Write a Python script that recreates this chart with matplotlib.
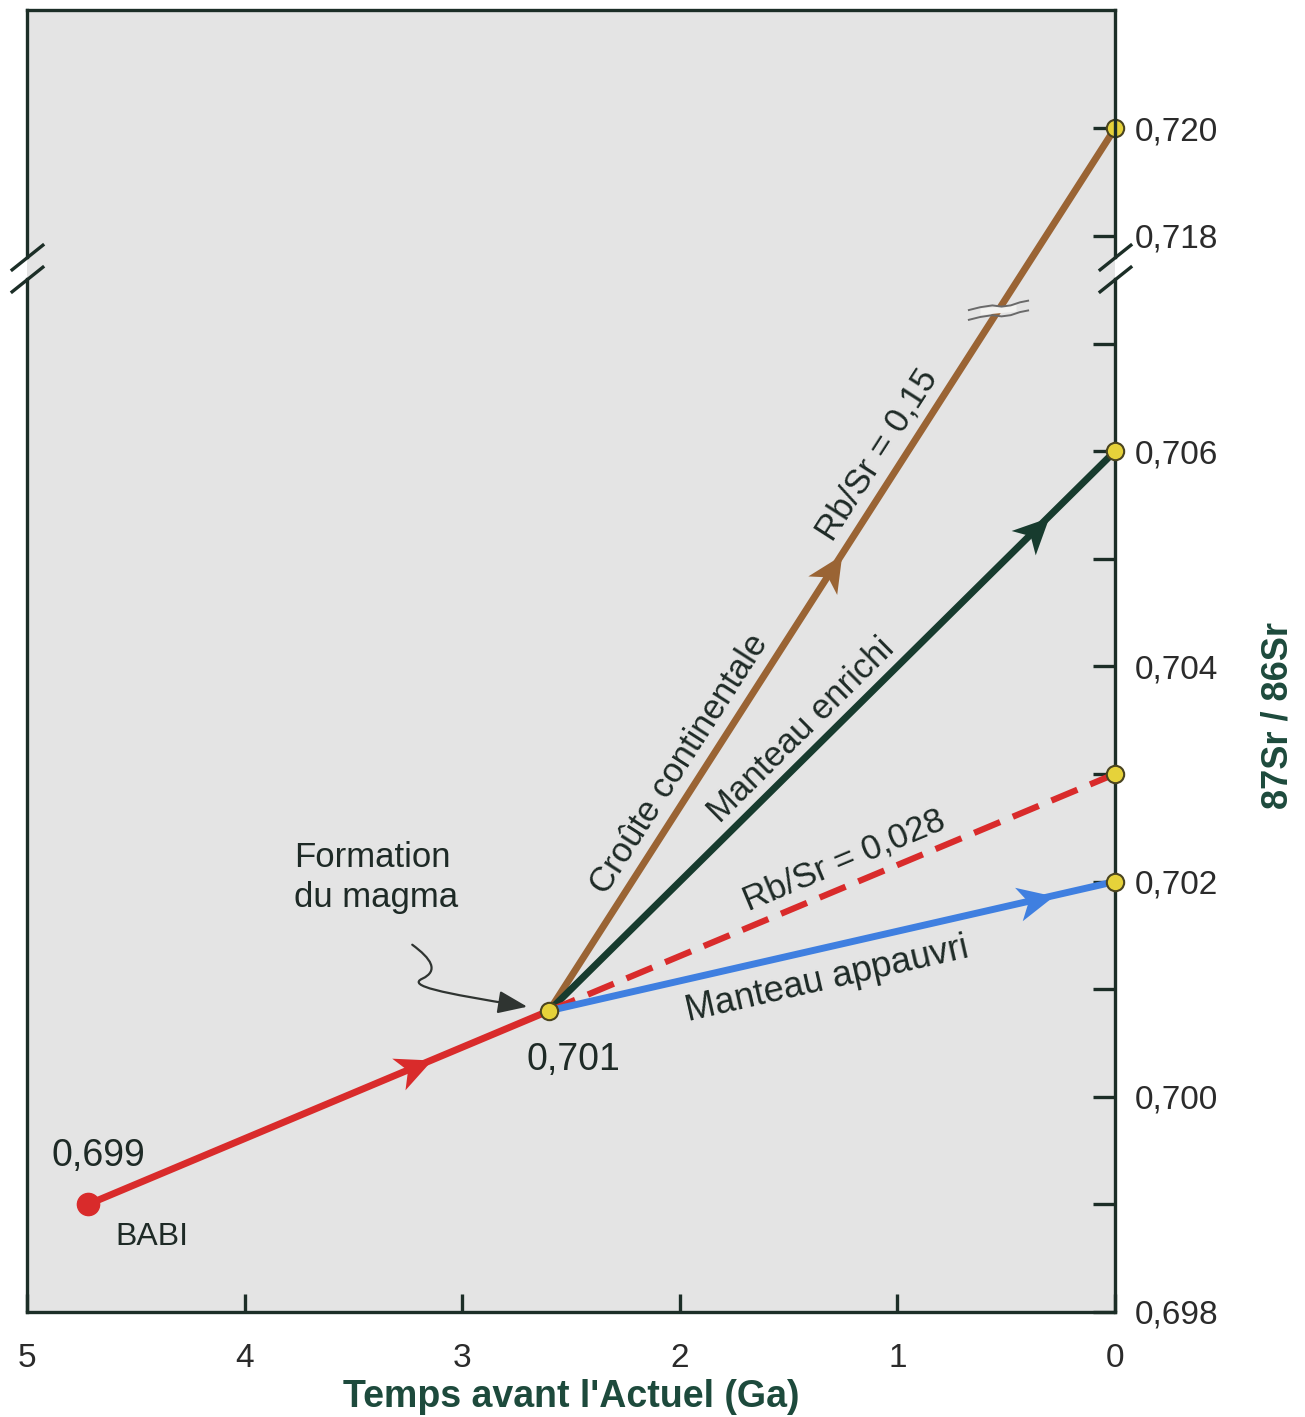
import numpy as np
import matplotlib
matplotlib.use("Agg")
import matplotlib.pyplot as plt
from matplotlib.markers import MarkerStyle
from matplotlib.transforms import Affine2D
from matplotlib.path import Path
from matplotlib.patches import FancyArrowPatch

plt.rcParams['font.family'] = ['Liberation Sans', 'DejaVu Sans']

# valeurs
t_babi = 4.72
sr_babi = 0.699
t_magma = 2.6
sr_magma = 0.7008

series = ["croute", "enrichi", "rbsr028", "appauvri"]
sr_present = [0.720, 0.706, 0.703, 0.702]
colors = ["#9a6434", "#173b2e", "#d92b2b", "#3f7fe0"]
styles = ["-", "-", (0, (4.5, 2.2)), "-"]

x_ticks = [5, 4, 3, 2, 1, 0]
y_ticks = [0.698, 0.699, 0.700, 0.701, 0.702, 0.703, 0.704, 0.705,
           0.706, 0.707, 0.718, 0.720]
y_labels = ["0,698", "", "0,700", "", "0,702", "", "0,704", "",
            "0,706", "", "0,718", "0,720"]

# echelle coupee entre 0,7076 et 0,7176
LO, HI = 0.7076, 0.7176


def fwd(v):
    v = np.asarray(v, dtype=float)
    up = 0.708 + (v - 0.718) / 2
    mid = LO + (v - LO) * (0.7078 - LO) / (HI - LO)
    return np.where(v <= LO, v, np.where(v >= HI, up, mid))


def inv(w):
    w = np.asarray(w, dtype=float)
    up = 0.718 + 2 * (w - 0.708)
    mid = LO + (w - LO) * (HI - LO) / (0.7078 - LO)
    return np.where(w <= LO, w, np.where(w >= 0.7078, up, mid))


spine_c = "#1c2e27"
text_c = "#1e2a26"

fig = plt.figure(figsize=(13.05, 14.17), dpi=100)
ax = fig.add_axes([27 / 1305, 105 / 1417, 1088 / 1305, 1302 / 1417])
ax.set_facecolor("#e4e4e4")
ax.set_yscale("function", functions=(fwd, inv))
ax.set_xlim(5, 0)
ax.set_ylim(0.698, 0.7222)


def along(x0, y0, x1, y1, t):
    p0 = ax.transData.transform((x0, y0))
    p1 = ax.transData.transform((x1, y1))
    d = p1 - p0
    p = p0 + t * d
    ang = np.degrees(np.arctan2(d[1], d[0]))
    u = d / np.hypot(*d)
    n = np.array([-u[1], u[0]])
    xy = ax.transData.inverted().transform(p)
    return xy, ang, n


def head(xy, ang, c):
    verts = [(1, 0), (-1, 0.95), (-0.45, 0), (-1, -0.95), (1, 0)]
    m = MarkerStyle(verts, transform=Affine2D().rotate_deg(ang))
    ax.plot(xy[0], xy[1], marker=m, ms=26, color=c, mew=0, zorder=5)


def label(xy, ang, n, off, txt, size=25):
    ax.annotate(txt, xy=xy, xytext=(n[0] * off, n[1] * off),
                textcoords="offset pixels", rotation=ang,
                rotation_mode="anchor", ha="center", va="center",
                fontsize=size, color=text_c, zorder=6)


# segment BABI -> formation du magma
ax.plot([t_babi, t_magma], [sr_babi, sr_magma], color="#d92b2b", lw=5,
        solid_capstyle="butt", zorder=3)
xy, ang, n = along(t_babi, sr_babi, t_magma, sr_magma, 0.71)
head(xy, ang, "#d92b2b")

# evolutions depuis 2,6 Ga
for s, v, c, ls in zip(series, sr_present, colors, styles):
    ax.plot([t_magma, 0], [sr_magma, v], color=c, lw=5 if ls == "-" else 4.5,
            ls=ls, solid_capstyle="butt", zorder=3)

xy, ang, n = along(t_magma, sr_magma, 0, sr_present[0], 0.50)
head(xy, ang, colors[0])
xy, ang, n = along(t_magma, sr_magma, 0, sr_present[1], 0.86)
head(xy, ang, colors[1])
xy, ang, n = along(t_magma, sr_magma, 0, sr_present[3], 0.86)
head(xy, ang, colors[3])

xy, ang, n = along(t_magma, sr_magma, 0, sr_present[0], 0.265)
label(xy, ang, n, 24, "Croûte continentale")
xy, ang, n = along(t_magma, sr_magma, 0, sr_present[0], 0.615)
label(xy, ang, n, 24, "Rb/Sr = 0,15")
xy, ang, n = along(t_magma, sr_magma, 0, sr_present[1], 0.473)
label(xy, ang, n, 22, "Manteau enrichi")
xy, ang, n = along(t_magma, sr_magma, 0, sr_present[2], 0.539)
label(xy, ang, n, 25, "Rb/Sr = 0,028")
xy, ang, n = along(t_magma, sr_magma, 0, sr_present[3], 0.478)
label(xy, ang, n, -32, "Manteau appauvri", size=26)

# coupure sur la droite de la croute
p0 = ax.transData.transform((t_magma, sr_magma))
p1 = ax.transData.transform((0, sr_present[0]))
yb = ax.transData.transform((0, 0.7073))[1]
xy, ang, n = along(t_magma, sr_magma, 0, sr_present[0], (yb - p0[1]) / (p1[1] - p0[1]))
gap = [(-1, -0.2), (1, 0.0), (1, 0.36), (-1, 0.16)]
ax.plot(xy[0], xy[1], marker=MarkerStyle(gap), ms=26, color="#f2f2f0", mew=0, zorder=4)
for dy in (-0.22, 0.1):
    wave = [(-1, dy - 0.06), (-0.6, dy + 0.04), (-0.2, dy + 0.1), (0.1, dy + 0.06),
            (0.4, dy + 0.1), (0.7, dy + 0.2), (1, dy + 0.26)]
    ax.plot(xy[0], xy[1], marker=MarkerStyle(wave), ms=44, mfc="none",
            mec="#6a6a6a", mew=1.4, zorder=5)

# points
ax.plot(t_babi, sr_babi, "o", ms=16, color="#d92b2b", zorder=6)
ax.plot([t_magma] + [0] * len(sr_present), [sr_magma] + sr_present, "o",
        ms=12.5, mfc="#e6d23a", mec="#4a4420", mew=1.5, zorder=7, clip_on=False)

ax.annotate("0,699", xy=(t_babi, sr_babi), xytext=(10, 48), textcoords="offset pixels",
            ha="center", va="center", fontsize=27, color=text_c)
ax.annotate("BABI", xy=(t_babi, sr_babi), xytext=(64, -33), textcoords="offset pixels",
            ha="center", va="center", fontsize=23, color=text_c)
ax.annotate("0,701", xy=(t_magma, sr_magma), xytext=(24, -49), textcoords="offset pixels",
            ha="center", va="center", fontsize=27, color=text_c)
ax.annotate("Formation\ndu magma", xy=(t_magma, sr_magma), xytext=(-255, 133),
            textcoords="offset pixels", ha="left", va="center", fontsize=25,
            linespacing=1.25, color=text_c)

# fleche sinueuse vers le point de formation du magma
pm = ax.transData.transform((t_magma, sr_magma))
squiggle = Path([(-137, 66), (-118, 52), (-110, 40), (-127, 32),
                 (-142, 25), (-110, 18), (-22, 4)],
                [Path.MOVETO, Path.CURVE4, Path.CURVE4, Path.CURVE4,
                 Path.CURVE4, Path.CURVE4, Path.CURVE4])
arr = FancyArrowPatch(path=squiggle, arrowstyle="-|>,head_length=0.9,head_width=0.35",
                      mutation_scale=20, color="#2f3431", lw=1.6,
                      transform=Affine2D().translate(pm[0], pm[1]), zorder=6)
arr.set_clip_on(False)
ax.add_patch(arr)

# axes
for side in ["top", "bottom", "left", "right"]:
    ax.spines[side].set_color(spine_c)
    ax.spines[side].set_linewidth(2.4)
ax.spines["left"].set_bounds(0.698, LO)
ax.spines["right"].set_bounds(0.698, LO)
ytr = ax.get_yaxis_transform()
for xa in (0, 1):
    ax.plot([xa, xa], [HI, 0.7222], transform=ytr, color=spine_c, lw=2.4,
            clip_on=False, solid_capstyle="projecting", zorder=8)
    ax.plot([xa, xa], [LO, HI], transform=ytr, ls="none",
            marker=MarkerStyle([(-1, -0.8), (1, 0.8)]), ms=24, mfc="none",
            mec=spine_c, mew=2.4, clip_on=False, zorder=8)

ax.set_xticks(x_ticks)
ax.set_xticklabels([str(v) for v in x_ticks])
ax.tick_params(axis="x", direction="in", length=13, width=2.4, color=spine_c,
               pad=22, labelsize=24, labelcolor="#2b2b2b")
ax.yaxis.tick_right()
ax.set_yticks(y_ticks)
ax.set_yticklabels(y_labels)
ax.yaxis.set_minor_locator(matplotlib.ticker.NullLocator())
ax.tick_params(axis="y", which="both", direction="in", length=16, width=2.4,
               color=spine_c, pad=14, labelsize=24, labelcolor="#2b2b2b")

ax.set_xlabel("Temps avant l'Actuel (Ga)", fontsize=27, fontweight="bold",
              color="#1d4a3c", labelpad=4)
ax.yaxis.set_label_position("right")
ax.set_ylabel("87Sr / 86Sr", fontsize=26, fontweight="bold", color="#1d4a3c",
              rotation=90)
ax.yaxis.set_label_coords(1.134, 0.458)

fig.savefig("out.png", dpi=100, facecolor="white")
